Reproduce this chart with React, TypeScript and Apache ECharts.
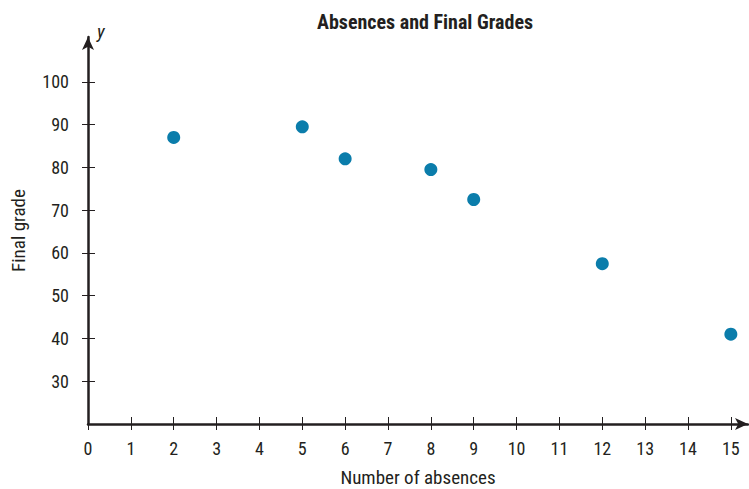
import React, { useEffect, useRef } from "react";
import * as echarts from "echarts";

const absences = [2, 5, 6, 8, 9, 12, 15];
const grades = [87, 89.5, 82, 79.5, 72.5, 57.5, 41];
const xTicks = [0, 1, 2, 3, 4, 5, 6, 7, 8, 9, 10, 11, 12, 13, 14, 15];
const yTicks = [30, 40, 50, 60, 70, 80, 90, 100];

const FONT = "'Liberation Sans Narrow', 'Roboto Condensed', 'Arial Narrow', 'Liberation Sans', sans-serif";
const AXIS = "#231f20";

export default function App() {
  const ref = useRef<HTMLDivElement>(null);
  useEffect(() => {
    if (!ref.current) return;
    const chart = echarts.init(ref.current, null, { renderer: "svg" });
    const xBase = {
      type: "value",
      min: 0,
      max: 15.4,
      splitLine: { show: false },
    };
    const yBase = {
      type: "value",
      min: 20,
      max: 110.5,
      splitLine: { show: false },
    };
    chart.setOption({
      animation: false,
      backgroundColor: "#ffffff",
      textStyle: { fontFamily: FONT },
      title: {
        text: "Absences and Final Grades",
        left: 420,
        textAlign: "center",
        top: 7,
        textStyle: { fontFamily: FONT, fontWeight: "bold", fontSize: 20, color: "#231f20" },
      },
      grid: { left: 88, top: 37, height: 387, width: 660, containLabel: false, outerBoundsMode: "none" },
      xAxis: [
        {
          ...xBase,
          name: "Number of absences",
          nameLocation: "middle",
          nameGap: 44,
          nameTextStyle: { fontFamily: FONT, fontSize: 19, color: "#231f20" },
          axisLine: { show: true, lineStyle: { color: AXIS, width: 2.5 }, symbol: ["none", "arrow"], symbolSize: [9, 13] },
          axisTick: { show: true, customValues: xTicks, length: 6, lineStyle: { color: AXIS, width: 1 } },
          axisLabel: { customValues: xTicks, margin: 15, fontFamily: FONT, fontSize: 18, color: "#231f20" },
        },
        {
          ...xBase,
          position: "bottom",
          axisLine: { show: false },
          axisTick: { show: true, inside: true, customValues: xTicks.filter((v) => v > 0), length: 7, lineStyle: { color: AXIS, width: 1 } },
          axisLabel: { show: false },
        },
      ],
      yAxis: [
        {
          ...yBase,
          name: "Final grade",
          nameLocation: "middle",
          nameGap: 60,
          nameTextStyle: { fontFamily: FONT, fontSize: 19, color: "#231f20" },
          axisLine: { show: true, lineStyle: { color: AXIS, width: 2.5 }, symbol: ["none", "arrow"], symbolSize: [9, 13] },
          axisTick: { show: true, customValues: yTicks, length: 6, lineStyle: { color: AXIS, width: 1 } },
          axisLabel: { customValues: yTicks, margin: 19, fontFamily: FONT, fontSize: 18, color: "#231f20" },
        },
        {
          ...yBase,
          position: "left",
          axisLine: { show: false },
          axisTick: { show: true, inside: true, customValues: yTicks, length: 7, lineStyle: { color: AXIS, width: 1 } },
          axisLabel: { show: false },
        },
      ],
      graphic: [
        {
          type: "text",
          left: 97,
          top: 22,
          style: { text: "y", fontFamily: FONT, fontStyle: "italic", fontSize: 19, fill: "#231f20" },
        },
      ],
      series: [
        {
          type: "scatter",
          xAxisIndex: 0,
          yAxisIndex: 0,
          data: absences.map((x, i) => [x, grades[i]]),
          symbolSize: 13,
          itemStyle: { color: "#0b7dab", opacity: 1 },
        },
      ],
    });
    return () => chart.dispose();
  }, []);
  return (
    <div
      ref={ref}
      style={{ position: "fixed", left: 0, top: 0, width: 749, height: 489, background: "#fff" }}
    />
  );
}
